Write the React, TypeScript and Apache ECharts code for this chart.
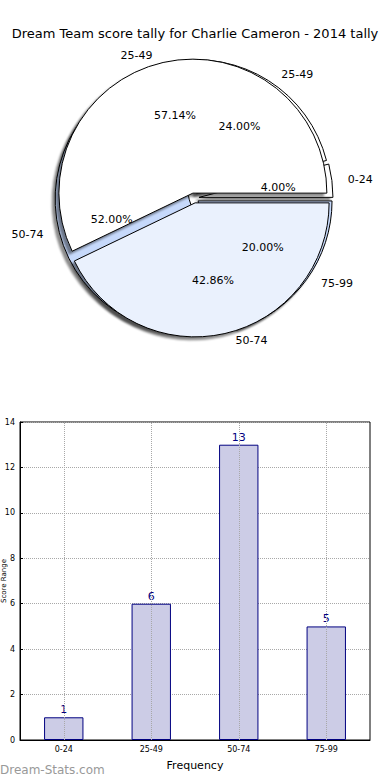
import React, { useEffect, useRef } from 'react';
import * as echarts from 'echarts';

const titleText = 'Dream Team score tally for Charlie Cameron - 2014 tally';
const ranges = ['0-24', '25-49', '50-74', '75-99'];
const rangeCounts = [1, 6, 13, 5];
const halfLabels = ['25-49', '50-74'];
const halfValues = [57.14, 42.86];
const yMin = 0;
const yMax = 14;
const yStep = 2;
const xAxisTitle = 'Frequency';
const yAxisTitle = 'Score Range';
const watermark = 'Dream-Stats.com';

const ringColors = ['#ffffff', '#ffffff', '#c6d9fb', '#c6d9fb'];
const halfColors = ['#ffffff', '#eaf1fd'];

const FONT = 'DejaVu Sans';
const CENTER = [194, 198];
const R = 134;

export default function App() {
  const ref = useRef<HTMLDivElement>(null);

  useEffect(() => {
    document.body.style.margin = '0';
    if (!ref.current) return;
    const chart = echarts.init(ref.current, undefined, { renderer: 'svg' });

    const shadow = {
      shadowColor: 'rgba(0,0,0,0.45)',
      shadowBlur: 2,
      shadowOffsetX: -3,
      shadowOffsetY: 3,
    };

    const basePie = {
      type: 'pie',
      center: CENTER,
      startAngle: 0,
      clockwise: false,
      avoidLabelOverlap: false,
      silent: true,
      emphasis: { disabled: true },
    };

    const nameLabel = {
      show: true,
      position: 'outside',
      formatter: '{b}',
      fontSize: 11,
      color: '#000',
      fontFamily: FONT,
    };
    const nameLabelLine = { show: false, length: 7, length2: 4 };

    const pctLabel = {
      show: true,
      position: 'inside',
      formatter: (p: any) => `${p.percent.toFixed(2)}%`,
      fontSize: 11,
      color: '#000',
      fontFamily: FONT,
    };

    const option: any = {
      animation: false,
      backgroundColor: '#ffffff',
      title: {
        text: titleText,
        left: 'center',
        top: 22,
        textStyle: { fontSize: 13, fontWeight: 'normal', color: '#000', fontFamily: FONT },
      },
      grid: {
        left: 20,
        right: 20,
        top: 422,
        bottom: 40,
        containLabel: false,
        outerBoundsMode: 'none',
        show: true,
        borderColor: '#000',
        borderWidth: 1,
        backgroundColor: 'transparent',
      },
      xAxis: {
        type: 'category',
        data: ranges,
        name: xAxisTitle,
        nameLocation: 'middle',
        nameGap: 20,
        nameMoveOverlap: false,
        nameTextStyle: { fontSize: 11, color: '#000', fontFamily: FONT },
        axisLine: { show: true, lineStyle: { color: '#000' } },
        axisTick: { show: false },
        axisLabel: { fontSize: 8, color: '#000', margin: 5, fontFamily: FONT },
        splitLine: { show: false },
      },
      yAxis: {
        type: 'value',
        min: yMin,
        max: yMax,
        interval: yStep,
        name: yAxisTitle,
        nameLocation: 'middle',
        nameGap: 13,
        nameMoveOverlap: false,
        nameTextStyle: { fontSize: 7, color: '#000', fontFamily: FONT },
        axisLine: { show: true, lineStyle: { color: '#000' } },
        axisTick: { show: true, inside: true, length: 3, lineStyle: { color: '#000' } },
        axisLabel: { fontSize: 8, color: '#000', margin: 5, fontFamily: FONT },
        splitLine: { show: true, lineStyle: { type: 'dotted', color: '#a8a8a8', width: 1 } },
      },
      graphic: [
        {
          type: 'text',
          left: 0,
          top: 764,
          style: {
            text: watermark,
            fontSize: 12,
            fontWeight: 'normal',
            fill: '#999999',
            fontFamily: FONT,
          },
        },
      ],
      series: [
        {
          ...basePie,
          radius: R,
          selectedMode: 'multiple',
          selectedOffset: 5,
          data: ranges.map((n, i) => ({
            name: n,
            value: rangeCounts[i],
            selected: true,
            itemStyle: { color: ringColors[i] },
          })),
          itemStyle: { borderColor: '#000', borderWidth: 1, ...shadow },
          select: { itemStyle: { borderColor: '#000', borderWidth: 1 } },
          label: nameLabel,
          labelLine: nameLabelLine,
        },
        {
          ...basePie,
          radius: R,
          selectedMode: 'multiple',
          selectedOffset: 5,
          data: halfLabels.map((n, i) => ({
            name: n,
            value: halfValues[i],
            selected: true,
            itemStyle: { color: halfColors[i] },
          })),
          itemStyle: { borderColor: '#000', borderWidth: 1, ...shadow },
          select: { itemStyle: { borderColor: '#000', borderWidth: 1 } },
          label: nameLabel,
          labelLine: nameLabelLine,
        },
        {
          ...basePie,
          radius: 164,
          data: ranges.map((n, i) => ({ name: n, value: rangeCounts[i] })),
          itemStyle: { color: 'rgba(0,0,0,0)', borderWidth: 0 },
          label: pctLabel,
          labelLine: { show: false },
        },
        {
          ...basePie,
          radius: 164,
          data: halfLabels.map((n, i) => ({ name: n, value: halfValues[i] })),
          itemStyle: { color: 'rgba(0,0,0,0)', borderWidth: 0 },
          label: pctLabel,
          labelLine: { show: false },
        },
        {
          type: 'bar',
          data: rangeCounts,
          barWidth: '45%',
          silent: true,
          itemStyle: { color: '#ccccE6', borderColor: '#000080', borderWidth: 1 },
          label: {
            show: true,
            position: 'top',
            distance: 2,
            fontSize: 11,
            color: '#000080',
            fontFamily: FONT,
          },
          markLine: {
            silent: true,
            symbol: ['none', 'none'],
            label: { show: false },
            lineStyle: { type: 'dotted', color: '#a8a8a8', width: 1 },
            data: ranges.map((r) => ({ xAxis: r })),
          },
        },
      ],
    };

    chart.setOption(option);
    return () => chart.dispose();
  }, []);

  return <div ref={ref} style={{ width: 390, height: 780 }} />;
}
